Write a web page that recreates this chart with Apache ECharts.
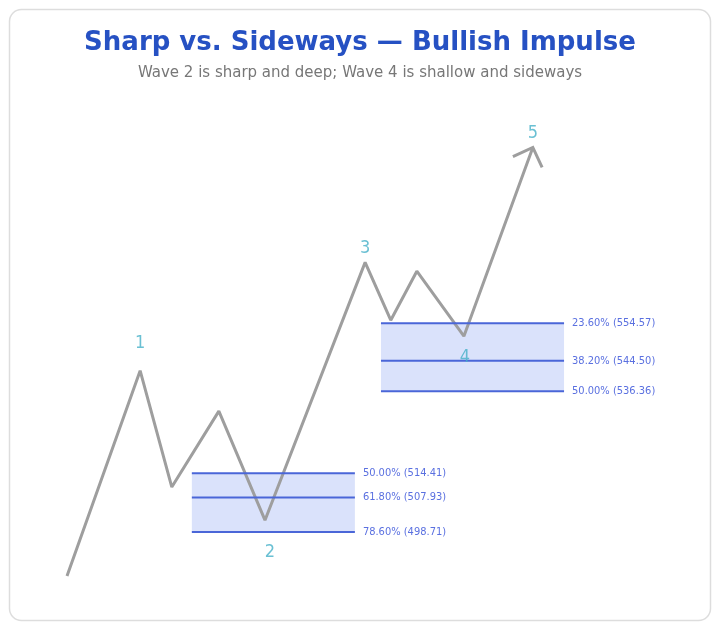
<!DOCTYPE html>
<html>
<head>
<meta charset="utf-8">
<script src="https://cdn.jsdelivr.net/npm/echarts@6/dist/echarts.min.js"></script>
<style>
  html, body { margin: 0; padding: 0; background: #fff; }
  #main { width: 720px; height: 630px; }
</style>
</head>
<body>
<div id="main"></div>
<script>
// wave path (x = bar position, y = price)
var waveX = [0, 15.7, 22.5, 32.6, 42.5, 64, 69.5, 75.1, 85.2, 100];
var waveY = [486.95, 541.87, 510.74, 531.05, 501.88, 570.85, 555.38, 568.48, 551.1, 601.6];
var waveLabels = ['', '1', '', '', '2', '3', '', '', '4', '5'];

// wave 2 retracement zone
var fib2Span = [26.8, 61.8];
var fib2Ratios = ['50.00%', '61.80%', '78.60%'];
var fib2Prices = [514.41, 507.93, 498.71];

// wave 4 retracement zone
var fib4Span = [67.4, 106.7];
var fib4Ratios = ['23.60%', '38.20%', '50.00%'];
var fib4Prices = [554.57, 544.50, 536.36];

var FONT = '"DejaVu Sans Condensed", "Liberation Sans Narrow", "DejaVu Sans", sans-serif';

// label placement per wave number: [dx, dy]
var labelPlace = {
  '1': [0, -27], '2': [5, 32], '3': [0, -14], '4': [1, 21], '5': [0, -14]
};

(function () {
  var chart = echarts.init(document.getElementById('main'));

  var zones = [
    { span: fib2Span, ratios: fib2Ratios, prices: fib2Prices },
    { span: fib4Span, ratios: fib4Ratios, prices: fib4Prices }
  ];

  var pathData = waveX.map(function (x, i) { return [x, waveY[i]]; });

  var labelData = [];
  waveLabels.forEach(function (t, i) {
    if (!t) return;
    var p = labelPlace[t];
    labelData.push({
      value: [waveX[i], waveY[i]],
      name: t,
      label: { offset: [p[0], p[1]] }
    });
  });

  var n = waveX.length;
  var arrowData = [[waveX[n - 2], waveY[n - 2], waveX[n - 1], waveY[n - 1]]];

  var option = {
    animation: false,
    graphic: [{
      type: 'rect',
      z: -10,
      shape: { x: 9.5, y: 9.5, width: 701, height: 611, r: 12 },
      style: { fill: '#fff', stroke: '#dddddd', lineWidth: 1.5 }
    }],
    title: {
      text: 'Sharp vs. Sideways — Bullish Impulse',
      subtext: 'Wave 2 is sharp and deep; Wave 4 is shallow and sideways',
      left: 'center',
      top: 25,
      itemGap: 10,
      textStyle: { color: '#2651c3', fontSize: 26, fontWeight: 'bold', fontFamily: 'DejaVu Sans' },
      subtextStyle: { color: '#777', fontSize: 15, fontFamily: 'DejaVu Sans' }
    },
    grid: { left: 67, right: 94, top: 116, bottom: 28 },
    xAxis: {
      type: 'value', min: 0, max: 120, show: false
    },
    yAxis: {
      type: 'value', min: 480, max: 610, show: false
    },
    series: [
      {
        // zone fills
        type: 'custom',
        z: 1,
        silent: true,
        data: zones.map(function (z) {
          return [z.span[0], z.span[1], Math.max.apply(null, z.prices), Math.min.apply(null, z.prices)];
        }),
        renderItem: function (params, api) {
          var a = api.coord([api.value(0), api.value(2)]);
          var b = api.coord([api.value(1), api.value(3)]);
          return {
            type: 'rect',
            shape: { x: a[0], y: a[1], width: b[0] - a[0], height: b[1] - a[1] },
            style: { fill: '#dae2fb' }
          };
        }
      },
      {
        type: 'line',
        z: 2,
        data: pathData,
        symbol: 'none',
        lineStyle: { color: '#9e9e9e', width: 3 }
      },
      {
        // arrow head at end of wave 5
        type: 'custom',
        z: 2,
        silent: true,
        data: arrowData,
        renderItem: function (params, api) {
          var p0 = api.coord([api.value(0), api.value(1)]);
          var p1 = api.coord([api.value(2), api.value(3)]);
          var ang = Math.atan2(p0[1] - p1[1], p0[0] - p1[0]);
          var len = 22, spread = Math.PI / 4;
          var l = [p1[0] + len * Math.cos(ang - spread), p1[1] + len * Math.sin(ang - spread)];
          var r = [p1[0] + len * Math.cos(ang + spread), p1[1] + len * Math.sin(ang + spread)];
          return {
            type: 'polyline',
            shape: { points: [l, p1, r] },
            style: { stroke: '#9e9e9e', lineWidth: 3, fill: null }
          };
        }
      },
      {
        // fib level lines and labels
        type: 'custom',
        z: 3,
        silent: true,
        data: zones.reduce(function (acc, z) {
          z.prices.forEach(function (p, i) {
            acc.push([z.span[0], z.span[1], p, i]);
          });
          return acc;
        }, []),
        renderItem: function (params, api) {
          var z = zones[params.dataIndex < 3 ? 0 : 1];
          var idx = api.value(3);
          var a = api.coord([api.value(0), api.value(2)]);
          var b = api.coord([api.value(1), api.value(2)]);
          return {
            type: 'group',
            children: [
              {
                type: 'line',
                shape: { x1: a[0], y1: a[1], x2: b[0], y2: b[1] },
                style: { stroke: '#4a66d8', lineWidth: 2 }
              },
              {
                type: 'text',
                x: b[0] + 8,
                y: b[1],
                style: {
                  text: z.ratios[idx] + ' (' + z.prices[idx].toFixed(2) + ')',
                  fill: '#5a70e0',
                  font: '11px ' + FONT,
                  verticalAlign: 'middle',
                  align: 'left'
                }
              }
            ]
          };
        }
      },
      {
        // wave numbers
        type: 'scatter',
        z: 4,
        silent: true,
        symbolSize: 0,
        data: labelData,
        label: {
          show: true,
          position: 'inside',
          formatter: '{b}',
          color: '#45b0c8',
          fontSize: 18,
          fontWeight: 500,
          fontFamily: FONT
        }
      }
    ]
  };

  chart.setOption(option);
})();
</script>
</body>
</html>
